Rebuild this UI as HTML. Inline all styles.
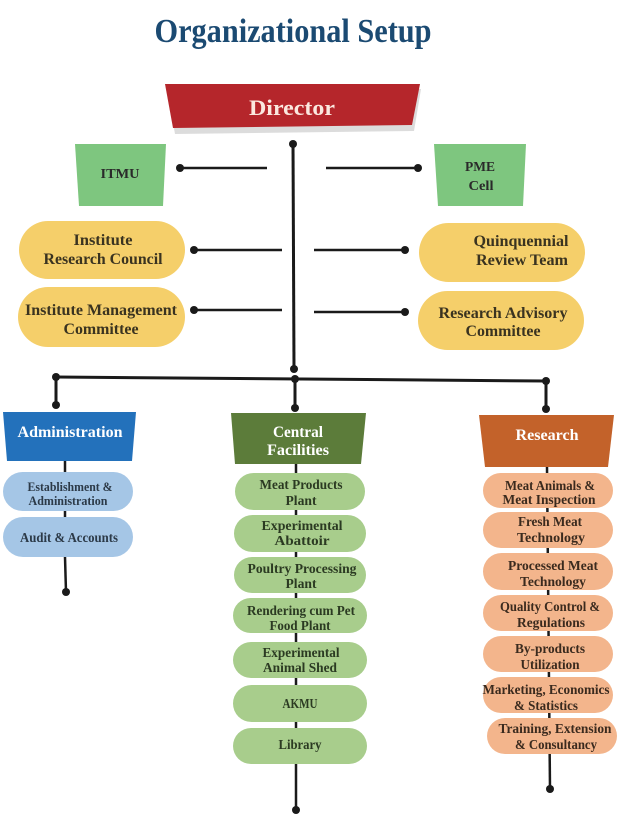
<!DOCTYPE html>
<html><head><meta charset="utf-8"><style>
html,body{margin:0;padding:0;background:#fff;}
svg{display:block;}
text{font-family:"Liberation Serif",serif;font-weight:bold;text-anchor:middle;}
.s{font-size:13.5px;}
.m{font-size:16px;fill:#3a3320;}
.h{font-size:16px;fill:#fff;}
</style></head><body>
<svg width="631" height="816" viewBox="0 0 631 816" xmlns="http://www.w3.org/2000/svg">
<rect width="631" height="816" fill="#fff"/>
<!-- Title -->
<text x="293" y="42" style="font-size:34px;fill:#1b4a72" textLength="277" lengthAdjust="spacingAndGlyphs">Organizational Setup</text>

<!-- Director -->
<polygon points="167,89 421,89 414,131 175,134" fill="#dcdcdc"/>
<polygon points="165,84 420,84 412,125 173,128" fill="#b5262b"/>
<text x="292" y="115" style="font-size:22px;fill:#fbe8df" textLength="86" lengthAdjust="spacingAndGlyphs">Director</text>

<!-- main trunk -->
<g stroke="#1a1a1a" stroke-width="3" fill="none">
<line x1="293" y1="143" x2="294" y2="369"/>
<line x1="56" y1="377" x2="546" y2="381"/>
<line x1="56" y1="377" x2="56" y2="405"/>
<line x1="295" y1="378" x2="295" y2="408"/>
<line x1="546" y1="381" x2="546" y2="409"/>
</g>
<g fill="#1a1a1a">
<circle cx="293" cy="144" r="4"/>
<circle cx="294" cy="369" r="4"/>
<circle cx="56" cy="377" r="4"/>
<circle cx="295" cy="379" r="4"/>
<circle cx="546" cy="381" r="4"/>
<circle cx="56" cy="405" r="4"/>
<circle cx="295" cy="408" r="4"/>
<circle cx="546" cy="409" r="4"/>
</g>

<!-- side connectors -->
<g stroke="#1a1a1a" stroke-width="2.5">
<line x1="180" y1="168" x2="267" y2="168"/>
<line x1="326" y1="168" x2="418" y2="168"/>
<line x1="194" y1="250" x2="282" y2="250"/>
<line x1="314" y1="250" x2="405" y2="250"/>
<line x1="194" y1="310" x2="282" y2="310"/>
<line x1="314" y1="312" x2="405" y2="312"/>
</g>
<g fill="#1a1a1a">
<circle cx="180" cy="168" r="4"/>
<circle cx="418" cy="168" r="4"/>
<circle cx="194" cy="250" r="4"/>
<circle cx="405" cy="250" r="4"/>
<circle cx="194" cy="310" r="4"/>
<circle cx="405" cy="312" r="4"/>
</g>

<!-- ITMU / PME -->
<polygon points="75,144 166,144 163,206 79,206" fill="#7ec67f"/>
<text x="120" y="178" style="font-size:14px;fill:#2a2a2a" textLength="39" lengthAdjust="spacingAndGlyphs">ITMU</text>
<polygon points="434,144 526,144 523,206 438,206" fill="#7ec67f"/>
<text x="480" y="171" style="font-size:14px;fill:#2a2a2a" textLength="30" lengthAdjust="spacingAndGlyphs">PME</text>
<text x="481" y="190" style="font-size:14px;fill:#2a2a2a" textLength="25" lengthAdjust="spacingAndGlyphs">Cell</text>

<!-- yellow pills -->
<g fill="#f5cf6a">
<rect x="19" y="221" width="166" height="58" rx="29"/>
<rect x="419" y="223" width="166" height="59" rx="29.5"/>
<rect x="18" y="287" width="167" height="60" rx="30"/>
<rect x="418" y="291" width="166" height="59" rx="29.5"/>
</g>
<text class="m" x="103" y="245" textLength="59" lengthAdjust="spacingAndGlyphs">Institute</text>
<text class="m" x="103" y="264" textLength="119" lengthAdjust="spacingAndGlyphs">Research Council</text>
<text class="m" x="521" y="246" textLength="95" lengthAdjust="spacingAndGlyphs">Quinquennial</text>
<text class="m" x="522" y="265" textLength="92" lengthAdjust="spacingAndGlyphs">Review Team</text>
<text class="m" x="101" y="315" textLength="152" lengthAdjust="spacingAndGlyphs">Institute Management</text>
<text class="m" x="101" y="334" textLength="75" lengthAdjust="spacingAndGlyphs">Committee</text>
<text class="m" x="503" y="318" textLength="129" lengthAdjust="spacingAndGlyphs">Research Advisory</text>
<text class="m" x="503" y="336" textLength="75" lengthAdjust="spacingAndGlyphs">Committee</text>

<!-- Administration column -->
<polygon points="3,412 136,412 132,461 7,461" fill="#2371bb"/>
<text class="h" x="70" y="437" textLength="105" lengthAdjust="spacingAndGlyphs">Administration</text>
<g stroke="#1a1a1a" stroke-width="2.5">
<line x1="65" y1="461" x2="65" y2="472"/>
<line x1="65" y1="511" x2="65" y2="517"/>
<line x1="65" y1="557" x2="66" y2="592"/>
</g>
<circle cx="66" cy="592" r="4" fill="#1a1a1a"/>
<g fill="#a5c6e6">
<rect x="3" y="472" width="130" height="39" rx="19.5"/>
<rect x="3" y="517" width="130" height="40" rx="20"/>
</g>
<g style="fill:#2c3a48">
<text class="s" x="70" y="491" style="font-size:12.5px" textLength="85" lengthAdjust="spacingAndGlyphs">Establishment &amp;</text>
<text class="s" x="68" y="505" style="font-size:12.5px" textLength="79" lengthAdjust="spacingAndGlyphs">Administration</text>
<text x="69" y="542" style="font-size:14px" textLength="98" lengthAdjust="spacingAndGlyphs">Audit &amp; Accounts</text>
</g>

<!-- Central Facilities column -->
<polygon points="231,413 366,413 361,464 235,464" fill="#5c7c3a"/>
<text class="h" x="298" y="437" textLength="50" lengthAdjust="spacingAndGlyphs">Central</text>
<text class="h" x="298" y="455" textLength="62" lengthAdjust="spacingAndGlyphs">Facilities</text>
<line x1="296" y1="464" x2="296" y2="810" stroke="#1a1a1a" stroke-width="2.5"/>
<circle cx="296" cy="810" r="4" fill="#1a1a1a"/>
<g fill="#a8cd8c">
<rect x="235" y="473" width="130" height="37" rx="18.5"/>
<rect x="234" y="515" width="132" height="37" rx="18.5"/>
<rect x="234" y="557" width="132" height="36" rx="18"/>
<rect x="233" y="598" width="134" height="35" rx="17.5"/>
<rect x="233" y="642" width="134" height="36" rx="18"/>
<rect x="233" y="685" width="134" height="37" rx="18.5"/>
<rect x="233" y="728" width="134" height="36" rx="18"/>
</g>
<g style="fill:#2b3a22">
<text class="s" x="301" y="489" textLength="83" lengthAdjust="spacingAndGlyphs">Meat Products</text>
<text class="s" x="301" y="505" textLength="31" lengthAdjust="spacingAndGlyphs">Plant</text>
<text class="s" x="302" y="530" textLength="81" lengthAdjust="spacingAndGlyphs">Experimental</text>
<text class="s" x="302" y="545" textLength="55" lengthAdjust="spacingAndGlyphs">Abattoir</text>
<text class="s" x="302" y="573" textLength="109" lengthAdjust="spacingAndGlyphs">Poultry Processing</text>
<text class="s" x="301" y="588" textLength="31" lengthAdjust="spacingAndGlyphs">Plant</text>
<text class="s" x="301" y="615" textLength="108" lengthAdjust="spacingAndGlyphs">Rendering cum Pet</text>
<text class="s" x="300" y="630" textLength="61" lengthAdjust="spacingAndGlyphs">Food Plant</text>
<text class="s" x="301" y="657" textLength="77" lengthAdjust="spacingAndGlyphs">Experimental</text>
<text class="s" x="300" y="672" textLength="74" lengthAdjust="spacingAndGlyphs">Animal Shed</text>
<text class="s" x="300" y="708" textLength="35" lengthAdjust="spacingAndGlyphs">AKMU</text>
<text class="s" x="300" y="749" textLength="43" lengthAdjust="spacingAndGlyphs">Library</text>
</g>

<!-- Research column -->
<polygon points="479,415 614,415 608,467 485,467" fill="#c3622a"/>
<text class="h" x="547" y="440" textLength="63" lengthAdjust="spacingAndGlyphs">Research</text>
<line x1="547" y1="467" x2="550" y2="789" stroke="#1a1a1a" stroke-width="2.5"/>
<circle cx="550" cy="789" r="4" fill="#1a1a1a"/>
<g fill="#f3b58c">
<rect x="483" y="473" width="130" height="35" rx="17.5"/>
<rect x="483" y="512" width="130" height="36" rx="18"/>
<rect x="483" y="553" width="130" height="37" rx="18.5"/>
<rect x="483" y="595" width="130" height="36" rx="18"/>
<rect x="483" y="636" width="130" height="36" rx="18"/>
<rect x="483" y="677" width="130" height="36" rx="18"/>
<rect x="487" y="718" width="130" height="36" rx="18"/>
</g>
<g style="fill:#3a2a1e">
<text class="s" x="550" y="490" textLength="90" lengthAdjust="spacingAndGlyphs">Meat Animals &amp;</text>
<text class="s" x="549" y="504" textLength="93" lengthAdjust="spacingAndGlyphs">Meat Inspection</text>
<text class="s" x="550" y="526" textLength="64" lengthAdjust="spacingAndGlyphs">Fresh Meat</text>
<text class="s" x="551" y="542" textLength="68" lengthAdjust="spacingAndGlyphs">Technology</text>
<text class="s" x="553" y="570" textLength="90" lengthAdjust="spacingAndGlyphs">Processed Meat</text>
<text class="s" x="553" y="586" textLength="66" lengthAdjust="spacingAndGlyphs">Technology</text>
<text class="s" x="550" y="611" textLength="100" lengthAdjust="spacingAndGlyphs">Quality Control &amp;</text>
<text class="s" x="551" y="627" textLength="68" lengthAdjust="spacingAndGlyphs">Regulations</text>
<text class="s" x="550" y="653" textLength="70" lengthAdjust="spacingAndGlyphs">By-products</text>
<text class="s" x="550" y="669" textLength="59" lengthAdjust="spacingAndGlyphs">Utilization</text>
<text class="s" x="546" y="694" textLength="127" lengthAdjust="spacingAndGlyphs">Marketing, Economics</text>
<text class="s" x="546" y="710" textLength="64" lengthAdjust="spacingAndGlyphs">&amp; Statistics</text>
<text class="s" x="555" y="733" textLength="113" lengthAdjust="spacingAndGlyphs">Training, Extension</text>
<text class="s" x="556" y="749" textLength="82" lengthAdjust="spacingAndGlyphs">&amp; Consultancy</text>
</g>
</svg>
</body></html>
